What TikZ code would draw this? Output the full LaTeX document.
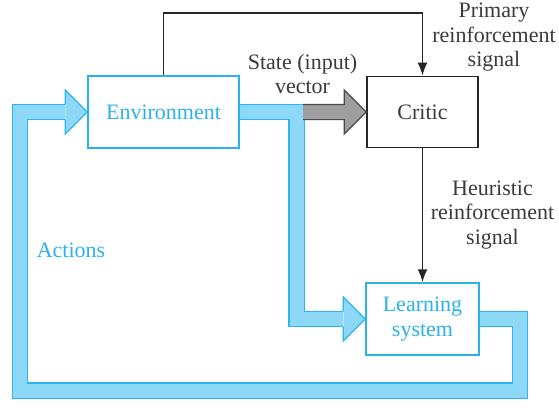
\documentclass[tikz,border=0pt]{standalone}
\usepackage{fontspec}
\setmainfont{Liberation Serif}
\usetikzlibrary{arrows.meta,calc}

\definecolor{bandline}{HTML}{2CB5EE}
\definecolor{bandfill}{HTML}{8DD8F7}
\definecolor{boxblue}{HTML}{29B3EC}
\definecolor{labeltext}{HTML}{3A3A3A}
\definecolor{stategray}{HTML}{9E9E9E}
\definecolor{stateline}{HTML}{4A4A4A}
\definecolor{signalline}{HTML}{262626}

\tikzset{
  pics/bandhead/.style={code={
    \fill[bandfill] (-22,-22) -- (0,0) -- (-22,22) -- cycle;
    \draw[bandline, line width=1.2pt, line join=miter]
      (-22,-7.6) -- (-22,-22) -- (0,0) -- (-22,22) -- (-22,7.6);
  }}
}

\begin{document}
\begin{tikzpicture}[x=1pt, y=-1pt,
  font=\fontsize{22}{24.5}\selectfont,
  bluebox/.style={draw=boxblue, line width=1.5pt, fill=white, text=boxblue,
    inner sep=0pt, align=center},
  blackbox/.style={draw=signalline, line width=1.6pt, fill=white, text=labeltext,
    inner sep=0pt, align=center},
  band/.style={draw=bandline, line width=1.2pt, double=bandfill,
    double distance=14pt, line cap=butt, line join=miter},
  signal/.style={draw=signalline, line width=1.8pt,
    -{Latex[length=13pt,width=10pt]}},
  caption/.style={text=labeltext, align=center, inner sep=0pt}
]
\useasboundingbox (0,0) rectangle (559,407);

% blocks
\node[bluebox, minimum width=151pt, minimum height=72pt] (env) at (163.5,112) {Environment};
\node[blackbox, minimum width=111pt, minimum height=71pt] (critic) at (422.5,112) {Critic};
\node[bluebox, minimum width=113pt, minimum height=72pt] (ls) at (422.5,319) {Learning\\system};

% routing points of the wide bands and the top signal line
\coordinate (split) at (296.5,112);
\coordinate (loopR) at (520,390.5);
\coordinate (loopL) at (20,390.5);
\coordinate (top) at (0,13);

% actions loop: learning system back to the environment
\draw[band] (ls.east) -| (loopR) -- (loopL) |- ($(env.west)+(-22,0)$);
\pic at (env.west) {bandhead};

% state vector branch down to the learning system
\draw[band] (env.east) -- (split) |- ($(ls.west)+(-22,0)$);
\pic at (ls.west) {bandhead};

% state vector into the critic
\filldraw[fill=stategray, draw=stateline, line width=1.2pt, line join=miter]
  ($(critic.west)+(-63,-7.6)$) -- ++(41,0) -- ++(0,-14.4) -- (critic.west)
  -- ++(-22,22) -- ++(0,-14.4) -- ++(-41,0);

% reinforcement signals
\draw[signal] (env.north) -- (env.north |- top) -| (critic.north);
\draw[signal] (critic.south) -- (ls.north);

% labels
\node[caption] (primary) at (494,37.5) {Primary\\reinforcement\\signal};
\node[caption] (state) at (302.5,74) {State (input)\\vector};
\node[caption] (heuristic) at (492.5,215) {Heuristic\\reinforcement\\signal};
\node[text=boxblue, inner sep=0pt] (actions) at (71,250) {Actions};
\end{tikzpicture}
\end{document}
